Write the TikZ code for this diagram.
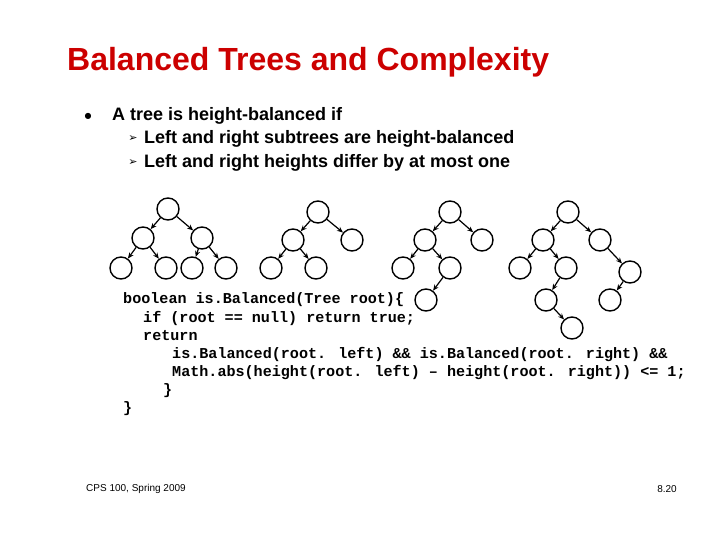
\documentclass[tikz,border=0pt]{standalone}
\usepackage{fontspec}
\setmainfont{Liberation Sans}
\newfontfamily\cmono{Liberation Mono}
\newfontfamily\dv{DejaVu Sans}
\usetikzlibrary{arrows.meta}
\begin{document}
\begin{tikzpicture}[x=1pt,y=-1pt,
  tn/.style={circle,draw,line width=1.4pt,minimum size=22pt,inner sep=0pt},
  ed/.style={line width=1.2pt,-{Stealth[length=6pt,width=5pt]}},
  code/.style={anchor=west,font=\cmono\bfseries\fontsize{15.1}{18}\selectfont,inner sep=0pt},
  txt/.style={anchor=west,font=\bfseries\fontsize{18}{20}\selectfont,inner sep=0pt}]
\useasboundingbox (0,0) rectangle (720,540);
\node[anchor=west,text=red!80!black,font=\bfseries\fontsize{32}{34}\selectfont,inner sep=0pt] (title) at (67,62) {Balanced Trees and Complexity};
\node[inner sep=0pt,font=\dv\fontsize{8}{10}\selectfont] (b1) at (88,116) {●};
\node[txt] (t1) at (112,116) {A tree is height-balanced if};
\node[inner sep=0pt,font=\dv\fontsize{11}{12}\selectfont] (b2) at (133,139) {➢};
\node[txt] (t2) at (144,139) {Left and right subtrees are height-balanced};
\node[inner sep=0pt,font=\dv\fontsize{11}{12}\selectfont] (b3) at (133,163) {➢};
\node[txt] (t3) at (144,163) {Left and right heights differ by at most one};
% tree 1
\node[tn] (a) at (168,209) {}; \node[tn] (a1) at (143,238) {}; \node[tn] (a2) at (202,238) {};
\node[tn] (a3) at (121,268) {}; \node[tn] (a4) at (166,268) {}; \node[tn] (a5) at (192,268) {}; \node[tn] (a6) at (226,268) {};
\draw[ed] (a)--(a1); \draw[ed] (a)--(a2); \draw[ed] (a1)--(a3); \draw[ed] (a1)--(a4); \draw[ed] (a2)--(a5); \draw[ed] (a2)--(a6);
% tree 2
\node[tn] (b) at (318,212) {}; \node[tn] (b1) at (293,240) {}; \node[tn] (b2) at (352,240) {};
\node[tn] (b3) at (271,268) {}; \node[tn] (b4) at (316,268) {};
\draw[ed] (b)--(b1); \draw[ed] (b)--(b2); \draw[ed] (b1)--(b3); \draw[ed] (b1)--(b4);
% tree 3
\node[tn] (c) at (450,212) {}; \node[tn] (c1) at (425,240) {}; \node[tn] (c2) at (482,240) {};
\node[tn] (c3) at (403,268) {}; \node[tn] (c4) at (450,268) {}; \node[tn] (c5) at (426,300) {};
\draw[ed] (c)--(c1); \draw[ed] (c)--(c2); \draw[ed] (c1)--(c3); \draw[ed] (c1)--(c4); \draw[ed] (c4)--(c5);
% tree 4
\node[tn] (d) at (568,212) {}; \node[tn] (d1) at (543,240) {}; \node[tn] (d2) at (600,240) {};
\node[tn] (d3) at (520,268) {}; \node[tn] (d4) at (566,268) {}; \node[tn] (d5) at (546,300) {};
\node[tn] (d6) at (572,328) {}; \node[tn] (d7) at (630,272) {}; \node[tn] (d8) at (610,300) {};
\draw[ed] (d)--(d1); \draw[ed] (d)--(d2); \draw[ed] (d1)--(d3); \draw[ed] (d1)--(d4); \draw[ed] (d4)--(d5);
\draw[ed] (d5)--(d6); \draw[ed] (d2)--(d7); \draw[ed] (d7)--(d8);
% code
\node[code] (k1) at (123,300) {boolean is.Balanced(Tree root)\{};
\node[code] (k2) at (143,318) {if (root == null) return true;};
\node[code] (k3) at (143,336) {return};
\node[code] (k4) at (172,355) {is.Balanced(root. left) \&\& is.Balanced(root. right) \&\&};
\node[code] (k5) at (172,373) {Math.abs(height(root. left) – height(root. right)) <= 1;};
\node[code] (k6) at (163,391) {\}};
\node[code] (k7) at (123,409) {\}};
\node[anchor=west,font=\fontsize{10}{12}\selectfont,inner sep=0pt] (f1) at (86,489) {CPS 100, Spring 2009};
\node[anchor=east,font=\fontsize{10}{12}\selectfont,inner sep=0pt] (f2) at (677,489) {8.20};
\end{tikzpicture}
\end{document}
